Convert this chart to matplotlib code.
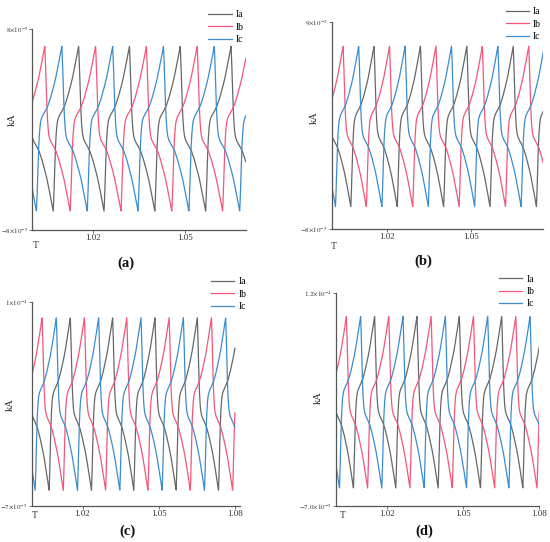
import numpy as np
import matplotlib
matplotlib.use("Agg")
import matplotlib.pyplot as plt

plt.rcParams['font.family'] = ['Liberation Serif', 'DejaVu Serif']
plt.rcParams['mathtext.fontset'] = 'stix'

# one period of the phase current (peak -> trough half),
# the other half is the same shape mirrored (peak=+1, trough=-1)
phase_half = [0.000, 0.010, 0.020, 0.035, 0.050, 0.065, 0.080, 0.100, 0.130, 0.170,
              0.220, 0.270, 0.320, 0.370, 0.420, 0.460, 0.490, 0.500]
shape_half = [1.00, 0.86, 0.66, 0.36, 0.14, 0.00, -0.08, -0.13, -0.17, -0.21,
              -0.27, -0.36, -0.47, -0.59, -0.74, -0.87, -0.97, -1.00]

period = 1.0 / 60.0
# time of first peak of each phase (same in all four panels)
peak_ia = 1.0152
peak_ib = 1.0041
peak_ic = 1.0097

# per panel: peak, trough (kA), x end, y limits, y tick labels
panels = ['(a)', '(b)', '(c)', '(d)']
peak_hi = [6.65e-5, 7.0e-5, 8.67e-5, 9.9e-5]
peak_lo = [-6.5e-5, -6.15e-5, -5.7e-5, -5.4e-5]
t_end = [1.070, 1.076, 1.080, 1.080]
y_min = [-8e-5, -8e-5, -7e-5, -7e-5]
y_max = [8e-5, 9e-5, 1e-4, 1.2e-4]
ytick_labels = [
    [r'$-8{\times}10^{-5}$', r'$8{\times}10^{-5}$'],
    [r'$-8{\times}10^{-5}$', r'$9{\times}10^{-5}$'],
    [r'$-7{\times}10^{-5}$', r'$1{\times}10^{-4}$'],
    [r'$-7.0{\times}10^{-5}$', r'$1.2{\times}10^{-4}$'],
]
xticks_ab = [1.02, 1.05]
xticks_cd = [1.02, 1.05, 1.08]

series_names = ['Ia', 'Ib', 'Ic']
series_colors = ['#676767', '#f2567a', '#3b8ccf']
series_peaks = [peak_ia, peak_ib, peak_ic]

W, H = 550, 542
# axes boxes in pixels: left, top, right, bottom
boxes = [
    (32.3, 29.3, 245.7, 230.0),
    (331.7, 21.7, 543.3, 229.3),
    (31.7, 301.7, 240.0, 506.0),
    (336.0, 292.7, 539.3, 506.0),
]
x_right = [1.070, 1.076, 1.082, 1.080]
kA_pos = [(12, 120), (314, 118), (10, 405), (318, 398)]
T_pos = [(36, 245), (334, 246), (35, 515), (343, 516)]
lab_pos = [(126, 263), (423, 261), (127, 531), (424, 531)]
leg_anchor = [(0.99, 1.095), (0.99, 1.07), (1.03, 1.12), (0.975, 1.085)]

phase_full = np.array(phase_half + [p + 0.5 for p in phase_half[1:]])
shape_full = np.array(shape_half + [-s for s in shape_half[1:]])


def wave(t, t_peak, hi, lo):
    ph = ((t - t_peak) / period) % 1.0
    s = np.interp(ph, phase_full, shape_full)
    return (hi + lo) / 2 + (hi - lo) / 2 * s


fig = plt.figure(figsize=(W / 100, H / 100), dpi=100)

for i in range(4):
    l, tp, r, b = boxes[i]
    ax = fig.add_axes([l / W, 1 - b / H, (r - l) / W, (b - tp) / H])
    t = np.linspace(1.0, t_end[i], 3000)
    for name, col, pk in zip(series_names, series_colors, series_peaks):
        ax.plot(t, wave(t, pk, peak_hi[i], peak_lo[i]), color=col, lw=0.9, label=name)

    ax.set_xlim(1.0, x_right[i])
    ax.set_ylim(y_min[i], y_max[i])
    ax.set_yticks([y_min[i], y_max[i]])
    ax.set_yticklabels(ytick_labels[i])
    ticks = xticks_ab if i < 2 else xticks_cd
    ax.set_xticks(ticks)
    ax.set_xticklabels(['%.2f' % v for v in ticks])
    for side in ['top', 'right']:
        ax.spines[side].set_visible(False)
    for side in ['left', 'bottom']:
        ax.spines[side].set_color('#555555')
        ax.spines[side].set_linewidth(0.9)
    ax.tick_params(axis='both', length=2, width=0.6, colors='#555555', labelcolor='#333333', pad=1)
    ax.tick_params(axis='y', labelsize=5)
    ax.tick_params(axis='x', labelsize=6.5)

    ax.legend(loc='upper right', bbox_to_anchor=leg_anchor[i], frameon=False,
              fontsize=7, handlelength=2.4, handletextpad=0.4, labelspacing=0.35,
              borderaxespad=0, borderpad=0)

    fig.text(kA_pos[i][0] / W, 1 - kA_pos[i][1] / H, 'kA', rotation=90,
             ha='center', va='center', fontsize=7.5, color='#222222')
    fig.text(T_pos[i][0] / W, 1 - T_pos[i][1] / H, 'T',
             ha='center', va='center', fontsize=7, color='#333333')
    fig.text(lab_pos[i][0] / W, 1 - lab_pos[i][1] / H, panels[i],
             ha='center', va='center', fontsize=10.5, fontweight='bold', color='#111111')

fig.savefig('out.png', dpi=100)
